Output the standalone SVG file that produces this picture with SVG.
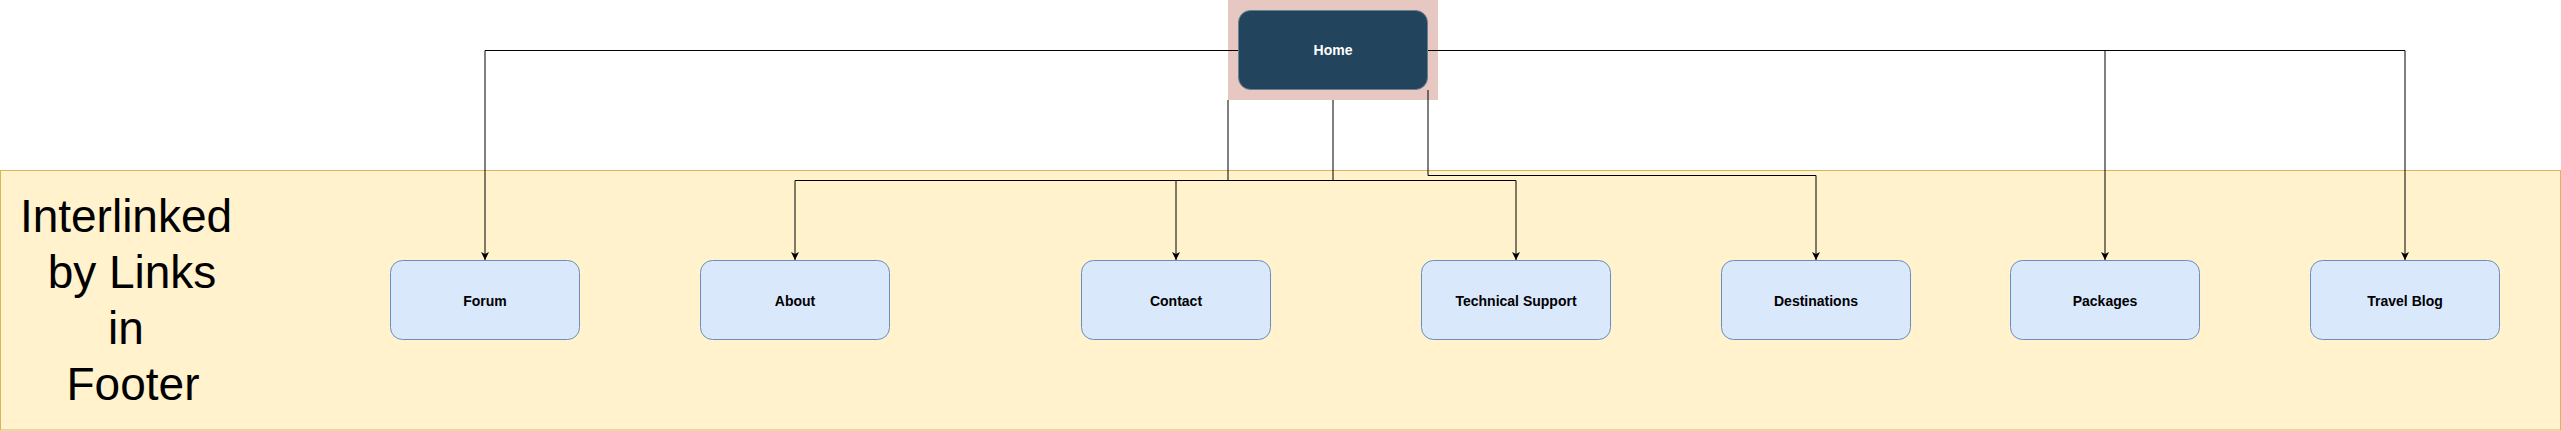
<svg xmlns="http://www.w3.org/2000/svg" width="2561" height="431" viewBox="0 0 2561 431">
<style>
.box{fill:#dae8fc;stroke:#6c8ebf;stroke-width:1}
.lbl{font-family:"Liberation Sans",Arial,sans-serif;font-size:14px;font-weight:bold;fill:#000;text-anchor:middle;dominant-baseline:central}
.big{font-family:"Liberation Sans",Arial,sans-serif;font-size:46px;fill:#000;text-anchor:middle}
.edge{fill:none;stroke:#000;stroke-width:1}
</style>
<defs>
<marker id="arr" viewBox="0 0 10 10" refX="10" refY="5" markerWidth="8" markerHeight="8" markerUnits="userSpaceOnUse" orient="auto">
<path d="M0,0 L10,5 L0,10 L2.5,5 Z" fill="#000"/>
</marker>
</defs>
<rect width="2561" height="431" fill="#fff"/>
<g id="footer-band">
<rect x="0.5" y="170.5" width="2560" height="259.5" fill="#fff2cc" stroke="#d6b656"/>
<text class="big" x="126" y="232">Interlinked</text>
<text class="big" x="132" y="288">by Links</text>
<text class="big" x="126" y="344">in</text>
<text class="big" x="133" y="400">Footer</text>
</g>
<g id="home-highlight">
<rect x="1228" y="0" width="210" height="100" fill="#e6c7c2"/>
</g>
<g id="home">
<rect x="1238.5" y="10.5" width="189" height="79" rx="12" fill="#23445d" stroke="#6a7f90"/>
<text class="lbl" x="1333" y="50" style="fill:#fff">Home</text>
</g>
<g id="forum"><rect class="box" x="390.5" y="260.5" width="189" height="79" rx="12"/><text class="lbl" x="485" y="301">Forum</text></g>
<g id="about"><rect class="box" x="700.5" y="260.5" width="189" height="79" rx="12"/><text class="lbl" x="795" y="301">About</text></g>
<g id="contact"><rect class="box" x="1081.5" y="260.5" width="189" height="79" rx="12"/><text class="lbl" x="1176" y="301">Contact</text></g>
<g id="technical-support"><rect class="box" x="1421.5" y="260.5" width="189" height="79" rx="12"/><text class="lbl" x="1516" y="301">Technical Support</text></g>
<g id="destinations"><rect class="box" x="1721.5" y="260.5" width="189" height="79" rx="12"/><text class="lbl" x="1816" y="301">Destinations</text></g>
<g id="packages"><rect class="box" x="2010.5" y="260.5" width="189" height="79" rx="12"/><text class="lbl" x="2105" y="301">Packages</text></g>
<g id="travel-blog"><rect class="box" x="2310.5" y="260.5" width="189" height="79" rx="12"/><text class="lbl" x="2405" y="301">Travel Blog</text></g>
<g id="connectors">
<path class="edge" d="M1238,50.5 H485 V260" marker-end="url(#arr)"/>
<path class="edge" d="M1428,50.5 H2105 V260" marker-end="url(#arr)"/>
<path class="edge" d="M2105,50.5 H2405 V260" marker-end="url(#arr)"/>
<path class="edge" d="M1228,100 V180.5 H795 V260" marker-end="url(#arr)"/>
<path class="edge" d="M1333,100 V180.5 H1176 V260" marker-end="url(#arr)"/>
<path class="edge" d="M1333,180.5 H1516 V260" marker-end="url(#arr)"/>
<path class="edge" d="M1428,90 V175.5 H1816 V260" marker-end="url(#arr)"/>
</g>
</svg>
